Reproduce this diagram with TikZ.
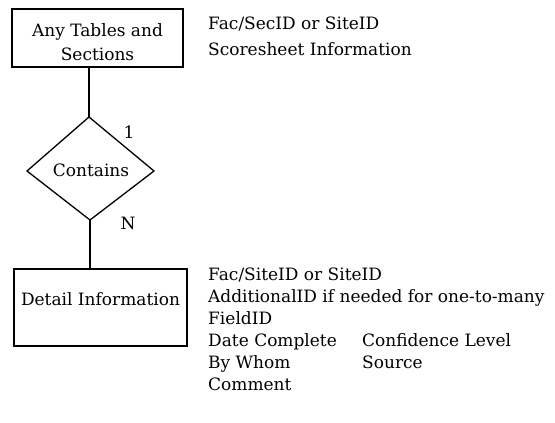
\documentclass[tikz,border=0pt]{standalone}
\usepackage{fontspec}
\setmainfont{DejaVu Serif}
\begin{document}
\begin{tikzpicture}[x=1pt,y=-1pt,
  every node/.style={font=\fontsize{17}{20}\selectfont, inner sep=0pt, anchor=base},
  frame/.style={line width=1.3pt, line join=miter},
  txt/.style={anchor=base west}]
\useasboundingbox (0,0) rectangle (555,423);
% entity: Any Tables and Sections
\draw[frame] (12,9) rectangle (183,67);
\node (t1) at (97.5,36) {Any Tables and};
\node (t2) at (97.5,60) {Sections};
% entity: Detail Information
\draw[frame] (14,269) rectangle (187,346);
\node (det) at (100.5,305) {Detail Information};
% relationship: Contains
\coordinate (topb) at (89,67);
\coordinate (dt) at (89,117);
\coordinate (dl) at (27,171);
\coordinate (dr) at (154,171);
\coordinate (db) at (90,220);
\coordinate (dett) at (90,269);
\draw[frame] (dt) -- (dr) -- (db) -- (dl) -- cycle;
\node (rel) at (91,176) {Contains};
\draw[frame] (topb) -- (dt);
\draw[frame] (db) -- (dett);
\node (one) at (129,138) {1};
\node (many) at (128,229) {N};
% attribute lists
\node[txt] (a1) at (208,30) {Fac/SecID or SiteID};
\node[txt] (a2) at (208,55) {Scoresheet Information};
\node[txt] (b1) at (208,280) {Fac/SiteID or SiteID};
\node[txt] (b2) at (208,302) {AdditionalID if needed for one-to-many};
\node[txt] (b3) at (208,324) {FieldID};
\node[txt] (b4) at (208,346) {Date Complete};
\node[txt] (b5) at (362,346) {Confidence Level};
\node[txt] (b6) at (208,368) {By Whom};
\node[txt] (b7) at (362,368) {Source};
\node[txt] (b8) at (208,390) {Comment};
\end{tikzpicture}
\end{document}
